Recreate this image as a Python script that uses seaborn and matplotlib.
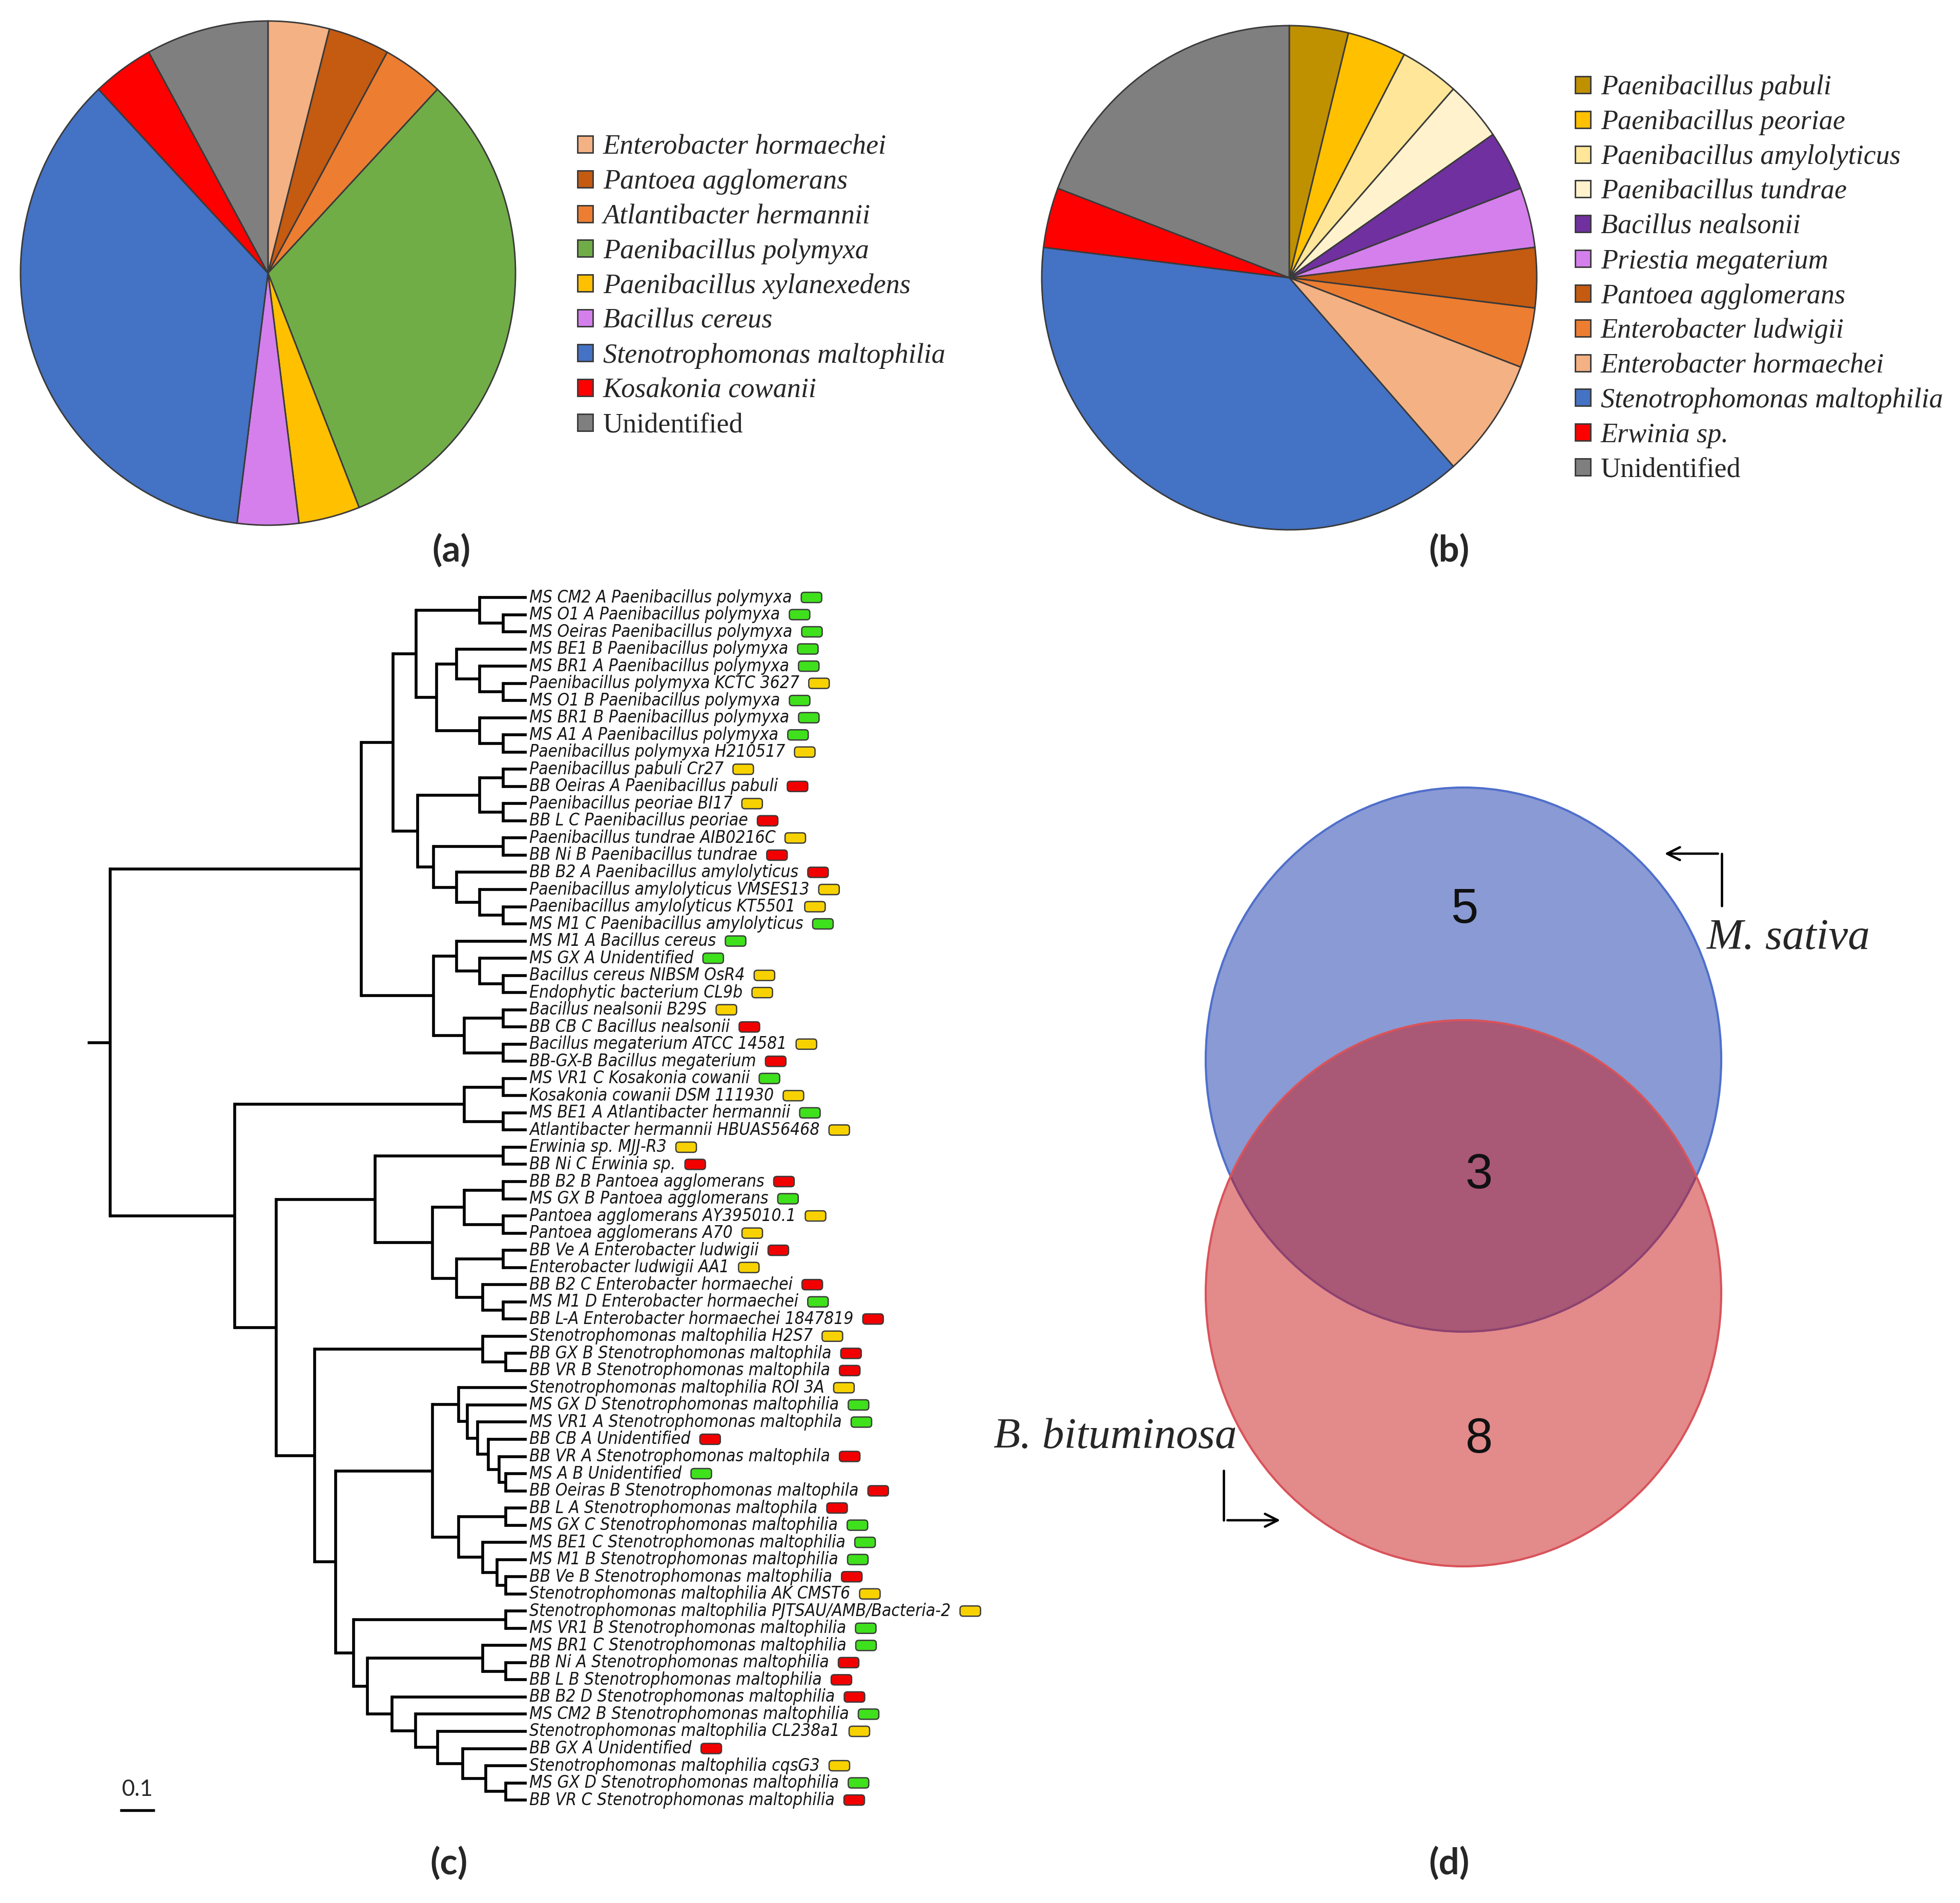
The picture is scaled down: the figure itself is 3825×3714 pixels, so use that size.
import matplotlib
matplotlib.use('Agg')
import matplotlib.pyplot as plt
import seaborn as sns
from matplotlib import font_manager
from matplotlib.patches import Ellipse, FancyBboxPatch
from matplotlib.transforms import IdentityTransform

sns.set_theme(style='white')
plt.rcParams['font.family'] = ['Liberation Sans', 'DejaVu Sans']

W, H, DPI = 3825, 3714, 300

# (a) isolates from M. sativa
ms_species = ['Enterobacter hormaechei', 'Pantoea agglomerans', 'Atlantibacter hermannii',
              'Paenibacillus polymyxa', 'Paenibacillus xylanexedens', 'Bacillus cereus',
              'Stenotrophomonas maltophilia', 'Kosakonia cowanii', 'Unidentified']
ms_counts = [1, 1, 1, 8, 1, 1, 9, 1, 2]
ms_colors = ['#f4b183', '#c55a11', '#ed7d31', '#70ad47', '#ffc000', '#d47fec',
             '#4472c4', '#ff0000', '#7f7f7f']

# (b) isolates from B. bituminosa
bb_species = ['Paenibacillus pabuli', 'Paenibacillus peoriae', 'Paenibacillus amylolyticus',
              'Paenibacillus tundrae', 'Bacillus nealsonii', 'Priestia megaterium',
              'Pantoea agglomerans', 'Enterobacter ludwigii', 'Enterobacter hormaechei',
              'Stenotrophomonas maltophilia', 'Erwinia sp.', 'Unidentified']
bb_counts = [1, 1, 1, 1, 1, 1, 1, 1, 2, 10, 1, 5]
bb_colors = ['#bf9000', '#ffc000', '#ffe699', '#fff2cc', '#7030a0', '#d47fec',
             '#c55a11', '#ed7d31', '#f4b183', '#4472c4', '#ff0000', '#7f7f7f']

# (c) tree leaves, top to bottom
leaf_names = [
    'MS CM2 A Paenibacillus polymyxa', 'MS O1 A Paenibacillus polymyxa',
    'MS Oeiras Paenibacillus polymyxa', 'MS BE1 B Paenibacillus polymyxa',
    'MS BR1 A Paenibacillus polymyxa', 'Paenibacillus polymyxa KCTC 3627',
    'MS O1 B Paenibacillus polymyxa', 'MS BR1 B Paenibacillus polymyxa',
    'MS A1 A Paenibacillus polymyxa', 'Paenibacillus polymyxa H210517',
    'Paenibacillus pabuli Cr27', 'BB Oeiras A Paenibacillus pabuli',
    'Paenibacillus peoriae BI17', 'BB L C Paenibacillus peoriae',
    'Paenibacillus tundrae AIB0216C', 'BB Ni B Paenibacillus tundrae',
    'BB B2 A Paenibacillus amylolyticus', 'Paenibacillus amylolyticus VMSES13',
    'Paenibacillus amylolyticus KT5501', 'MS M1 C Paenibacillus amylolyticus',
    'MS M1 A Bacillus cereus', 'MS GX A Unidentified', 'Bacillus cereus NIBSM OsR4',
    'Endophytic bacterium CL9b', 'Bacillus nealsonii B29S', 'BB CB C Bacillus nealsonii',
    'Bacillus megaterium ATCC 14581', 'BB-GX-B Bacillus megaterium',
    'MS VR1 C Kosakonia cowanii', 'Kosakonia cowanii DSM 111930',
    'MS BE1 A Atlantibacter hermannii', 'Atlantibacter hermannii HBUAS56468',
    'Erwinia sp. MJJ-R3', 'BB Ni C Erwinia sp.', 'BB B2 B Pantoea agglomerans',
    'MS GX B Pantoea agglomerans', 'Pantoea agglomerans AY395010.1',
    'Pantoea agglomerans A70', 'BB Ve A Enterobacter ludwigii', 'Enterobacter ludwigii AA1',
    'BB B2 C Enterobacter hormaechei', 'MS M1 D Enterobacter hormaechei',
    'BB L-A Enterobacter hormaechei 1847819', 'Stenotrophomonas maltophilia H2S7',
    'BB GX B Stenotrophomonas maltophila', 'BB VR B Stenotrophomonas maltophila',
    'Stenotrophomonas maltophilia ROI 3A', 'MS GX D Stenotrophomonas maltophilia',
    'MS VR1 A Stenotrophomonas maltophila', 'BB CB A Unidentified',
    'BB VR A Stenotrophomonas maltophila', 'MS A B Unidentified',
    'BB Oeiras B Stenotrophomonas maltophila', 'BB L A Stenotrophomonas maltophila',
    'MS GX C Stenotrophomonas maltophilia', 'MS BE1 C Stenotrophomonas maltophilia',
    'MS M1 B Stenotrophomonas maltophilia', 'BB Ve B Stenotrophomonas maltophilia',
    'Stenotrophomonas maltophilia AK CMST6',
    'Stenotrophomonas maltophilia PJTSAU/AMB/Bacteria-2',
    'MS VR1 B Stenotrophomonas maltophilia', 'MS BR1 C Stenotrophomonas maltophilia',
    'BB Ni A Stenotrophomonas maltophilia', 'BB L B Stenotrophomonas maltophilia',
    'BB B2 D Stenotrophomonas maltophilia', 'MS CM2 B Stenotrophomonas maltophilia',
    'Stenotrophomonas maltophilia CL238a1', 'BB GX A Unidentified',
    'Stenotrophomonas maltophilia cqsG3', 'MS GX D Stenotrophomonas maltophilia',
    'BB VR C Stenotrophomonas maltophilia']

# tree topology: (node depth, children...), ints are leaf indices
paen1 = (0.874, (1.056, 0, (1.123, 1, 2)),
         (0.933, (0.99, 3, (1.056, 4, (1.123, 5, 6))), (1.056, 7, (1.123, 8, 9))))
paen2 = (0.879, (1.056, (1.123, 10, 11), (1.123, 12, 13)),
         (0.924, (1.123, 14, 15), (0.99, 16, (1.056, 17, (1.123, 18, 19)))))
bac = (0.924, (0.99, 20, (1.056, 21, (1.123, 22, 23))),
       (1.011, (1.123, 24, 25), (1.123, 26, 27)))
firm = (0.717, (0.809, paen1, paen2), bac)

kos = (1.011, (1.123, 28, 29), (1.123, 30, 31))
ent = (0.757, (1.123, 32, 33),
       (0.921, (1.011, (1.123, 34, 35), (1.123, 36, 37)),
        (0.99, (1.123, 38, 39), (1.064, 40, (1.123, 41, 42)))))
steno_a = (0.921,
           (0.995, 46, (1.02, 47, (1.05, 48, (1.08, 49, (1.111, 50, (1.13, 51, 52)))))),
           (0.995, (1.13, 53, 54), (1.064, 55, (1.106, 56, (1.13, 57, 58)))))
steno_b = (0.695, (1.13, 59, 60),
           (0.735, (1.064, 61, (1.13, 62, 63)),
            (0.805, 64, (0.873, 65, (0.936, 66, (1.007, 67, (1.073, 68, (1.13, 69, 70))))))))
steno = (0.584, (1.064, 43, (1.13, 44, 45)), (0.645, steno_a, steno_b))
proteo = (0.356, kos, (0.475, ent, steno))
tree = (0.0, firm, proteo)

leaf_depth = 1.19
source_colors = {'MS': '#3fe01c', 'BB': '#f20000', 'ref': '#f7d200'}

# (d) Venn counts
venn_counts = [5, 3, 8]   # M. sativa only, shared, B. bituminosa only
venn_sets = ['M. sativa', 'B. bituminosa']

# look for a condensed sans for the tree labels
narrow = dict(family='Liberation Sans')
for f in font_manager.fontManager.ttflist:
    if ('Narrow' in f.name or 'Condensed' in f.name
            or str(f.stretch) in ('condensed', 'semi-condensed', 'extra-condensed')):
        narrow = dict(family=f.name, fontstretch=f.stretch)
        if 'Sans' in f.name:
            break

fig = plt.figure(figsize=(W / DPI, H / DPI), dpi=DPI)


def px_axes(left, top, w, h):
    return fig.add_axes([left / W, 1 - (top + h) / H, w / W, h / H])


def pie_panel(box, counts, colors, labels, leg_xy):
    ax = px_axes(*box)
    wedges, _ = ax.pie(counts, colors=colors, startangle=90, counterclock=False,
                       radius=1, wedgeprops=dict(edgecolor='#3a3a3a', linewidth=0.7))
    ax.set_aspect('auto')
    ax.set_xlim(-1, 1)
    ax.set_ylim(-1, 1)
    leg = ax.legend(wedges, labels, loc='upper left', bbox_to_anchor=leg_xy,
                    bbox_transform=fig.transFigure, frameon=False,
                    prop=dict(family='Liberation Serif', style='italic', size=13),
                    handlelength=0.56, handleheight=0.56, handletextpad=0.36,
                    labelspacing=0.32, borderpad=0, borderaxespad=0)
    for t in leg.get_texts():
        if t.get_text() == 'Unidentified':
            t.set_style('normal')
    return ax


pie_panel((40, 41, 966, 984), ms_counts, ms_colors, ms_species,
          (1127 / W, 1 - 262 / H))
pie_panel((2033, 50, 966, 984), bb_counts, bb_colors, bb_species,
          (3074 / W, 1 - 146 / H))

# ---- tree
ax = px_axes(0, 1100, 1950, 2500)
ax.set_xlim(-214.7 / 683.3, (1950 - 214.7) / 683.3)
ax.set_ylim((3600 - 1166) / 33.53, (1100 - 1166) / 33.53)
ax.axis('off')
lw = 1.35


def draw(node, parent_x):
    if isinstance(node, int):
        ax.plot([parent_x, leaf_depth], [node, node], color='black', lw=lw,
                solid_capstyle='butt')
        return node
    x = node[0]
    ys = [draw(ch, x) for ch in node[1:]]
    y = (ys[0] + ys[-1]) / 2
    ax.plot([x, x], [ys[0], ys[-1]], color='black', lw=lw, solid_capstyle='projecting')
    ax.plot([parent_x, x], [y, y], color='black', lw=lw, solid_capstyle='butt')
    return y


draw(tree, -0.064)

# pick the label size so the first label is as wide as in the figure (~512 px)
probe = fig.text(0, 0, leaf_names[0], fontsize=10, style='italic', **narrow)
fig.canvas.draw()
pw = probe.get_window_extent(fig.canvas.get_renderer()).width
probe.remove()
leaf_fs = min(10.0, 10 * 512 / pw)

texts = []
for i, name in enumerate(leaf_names):
    texts.append(ax.text(leaf_depth + 0.008, i, name, fontsize=leaf_fs, style='italic',
                         va='center', ha='left', color='#151515', **narrow))

# scale bar
ax.plot([0.028, 0.128], [70.6, 70.6], color='black', lw=1.3, solid_capstyle='butt')
ax.text(0.078, 69.4, '0.1', fontsize=10.5, family=['Lato', 'DejaVu Sans'],
        ha='center', va='center')

fig.canvas.draw()
rend = fig.canvas.get_renderer()
for i, (t, name) in enumerate(zip(texts, leaf_names)):
    bb = t.get_window_extent(rend)
    yc = ax.transData.transform((0, i))[1]
    key = name[:2] if name[:2] in ('MS', 'BB') else 'ref'
    p = FancyBboxPatch((bb.x1 + 18, yc - 10), 40, 20,
                       boxstyle='round,pad=0,rounding_size=6',
                       transform=IdentityTransform(), facecolor=source_colors[key],
                       edgecolor='#3a3a3a', linewidth=0.6, clip_on=False)
    ax.add_patch(p)

# ---- Venn
axv = px_axes(1850, 1450, 1975, 1700)
axv.set_xlim(1850, 3825)
axv.set_ylim(3150, 1450)
axv.axis('off')
axv.add_patch(Ellipse((2856, 2068), 1006, 1062, facecolor=(0.09, 0.215, 0.67, 0.5),
                      edgecolor='#4f6fcb', linewidth=1.0))
axv.add_patch(Ellipse((2856, 2524), 1006, 1066, facecolor=(0.79, 0.09, 0.09, 0.5),
                      edgecolor='#d9535a', linewidth=1.0))
for (x, y), n in zip([(2858, 1776), (2886, 2294), (2886, 2810)], venn_counts):
    axv.text(x, y, str(n), fontsize=23, ha='center', va='center', color='#111111')
axv.text(3331, 1831, venn_sets[0], fontsize=20.5, family='Liberation Serif',
         style='italic', ha='left', va='center')
axv.text(1939, 2805, venn_sets[1], fontsize=20.5, family='Liberation Serif',
         style='italic', ha='left', va='center')
axv.plot([3360, 3360], [1768, 1666], color='black', lw=1.1)
axv.annotate('', xy=(3240, 1666), xytext=(3361, 1666),
             arrowprops=dict(arrowstyle='->', lw=1.1, color='black', mutation_scale=15))
axv.plot([2388, 2388], [2870, 2967], color='black', lw=1.1)
axv.annotate('', xy=(2507, 2967), xytext=(2387, 2967),
             arrowprops=dict(arrowstyle='->', lw=1.1, color='black', mutation_scale=15))

# panel letters
for lab, (x, y) in zip(['(a)', '(b)', '(c)', '(d)'],
                       [(881, 1074), (2828, 1074), (876, 3636), (2828, 3636)]):
    fig.text(x / W, 1 - y / H, lab, fontsize=17, fontweight='bold',
             family=['Lato', 'DejaVu Sans'], ha='center', va='center')

fig.savefig('out.png', dpi=DPI, facecolor='white')
